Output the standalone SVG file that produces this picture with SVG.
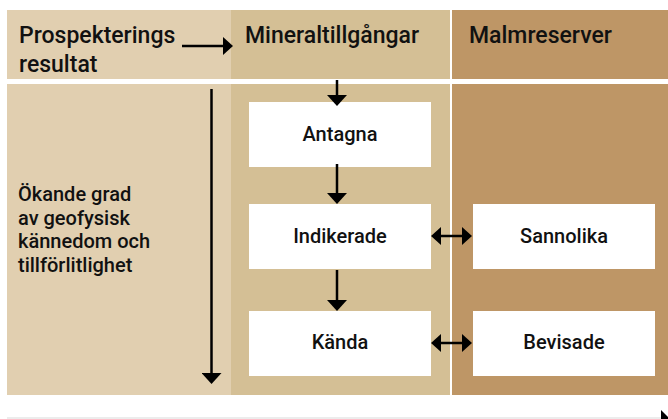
<svg xmlns="http://www.w3.org/2000/svg" width="668" height="419" viewBox="0 0 668 419">
<style>
  .t { font-family: Roboto, "Liberation Sans", Arial, sans-serif; font-weight: 500; fill: #111111; }
  .h { font-size: 23px; }
  .b { font-size: 20px; text-anchor: middle; }
  .l { font-size: 20px; }
  .box { fill: #ffffff; }
  .c { stroke: #000000; stroke-width: 2.5; fill: none; }
</style>
<defs>
  <marker id="ah" markerUnits="userSpaceOnUse" viewBox="0 -10 11 20" refX="0" refY="0" markerWidth="11" markerHeight="20" orient="auto-start-reverse">
    <path d="M0,-10 L11,0 L0,10 z" fill="#000000"/>
  </marker>
  <marker id="ahs" markerUnits="userSpaceOnUse" viewBox="0 -9 10 18" refX="0" refY="0" markerWidth="10" markerHeight="18" orient="auto-start-reverse">
    <path d="M0,-9 L10,0 L0,9 z" fill="#000000"/>
  </marker>
</defs>
<rect x="0" y="0" width="668" height="419" fill="#ffffff"/>
<g id="backgrounds">
  <rect x="7" y="10" width="224" height="69" fill="#e1cfb0"/>
  <rect x="231" y="10" width="219" height="69" fill="#d4bf95"/>
  <rect x="452" y="10" width="216" height="69" fill="#be9666"/>
  <rect x="7" y="84" width="224" height="311" fill="#e1cfb0"/>
  <rect x="231" y="84" width="219" height="311" fill="#d4bf95"/>
  <rect x="452" y="84" width="216" height="311" fill="#be9666"/>
  <line x1="7" y1="418" x2="668" y2="418" stroke="#e6e6e6" stroke-width="1.5"/>
  <path d="M661,410 L670,419 L661,419 z" fill="#000000"/>
</g>
<g id="headers">
  <text class="t h" x="19" y="43">Prospekterings</text>
  <text class="t h" x="19" y="72">resultat</text>
  <text class="t h" x="245" y="43">Mineraltillgångar</text>
  <text class="t h" x="469" y="43">Malmreserver</text>
</g>
<g id="axis-label">
  <text class="t l" x="18" y="201">Ökande grad</text>
  <text class="t l" x="18" y="225">av geofysisk</text>
  <text class="t l" x="18" y="248">kännedom och</text>
  <text class="t l" x="18" y="272">tillförlitlighet</text>
</g>
<g id="node-antagna">
  <rect class="box" x="249" y="102" width="182" height="65"/>
  <text class="t b" x="340" y="141">Antagna</text>
</g>
<g id="node-indikerade">
  <rect class="box" x="249" y="204" width="182" height="65"/>
  <text class="t b" x="340" y="243">Indikerade</text>
</g>
<g id="node-kanda">
  <rect class="box" x="249" y="311" width="182" height="65"/>
  <text class="t b" x="340" y="349">Kända</text>
</g>
<g id="node-sannolika">
  <rect class="box" x="473" y="204" width="182" height="65"/>
  <text class="t b" x="564" y="243">Sannolika</text>
</g>
<g id="node-bevisade">
  <rect class="box" x="473" y="311" width="182" height="65"/>
  <text class="t b" x="564" y="349">Bevisade</text>
</g>
<g id="connectors">
  <line class="c" x1="182" y1="46" x2="223" y2="46" marker-end="url(#ahs)"/>
  <line class="c" x1="211.5" y1="89" x2="211.5" y2="373" marker-end="url(#ah)"/>
  <line class="c" x1="337" y1="80" x2="337" y2="95" marker-end="url(#ah)"/>
  <line class="c" x1="337" y1="164" x2="337" y2="193" marker-end="url(#ah)"/>
  <line class="c" x1="337" y1="270" x2="337" y2="300" marker-end="url(#ah)"/>
  <line class="c" x1="441" y1="236" x2="462" y2="236" marker-start="url(#ahs)" marker-end="url(#ahs)"/>
  <line class="c" x1="441" y1="343" x2="462" y2="343" marker-start="url(#ahs)" marker-end="url(#ahs)"/>
</g>
</svg>
